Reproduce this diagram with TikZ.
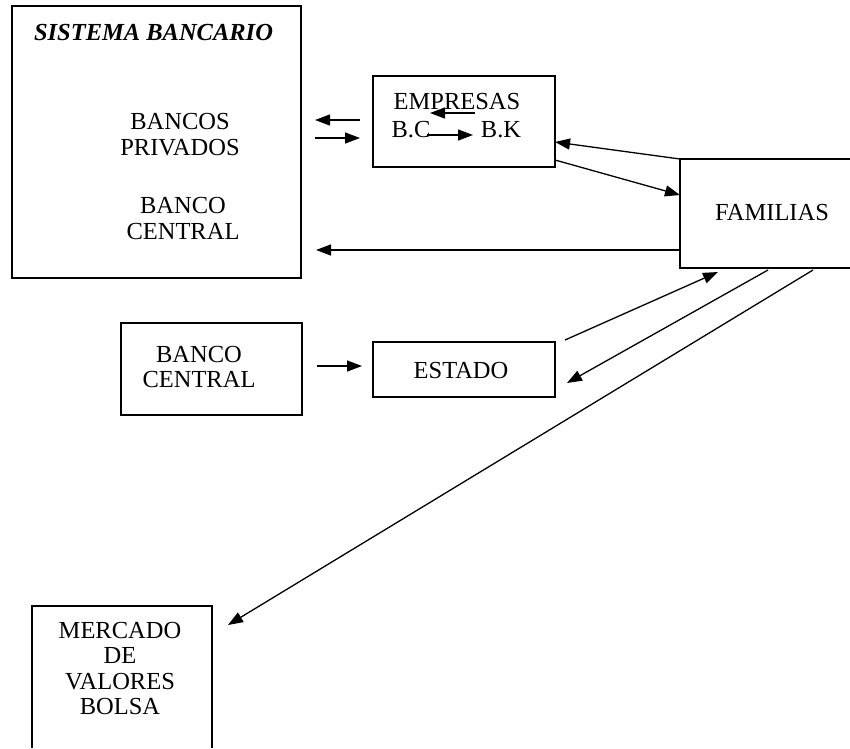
\documentclass[tikz,border=0pt]{standalone}
\usepackage{fontspec}
\setmainfont{Liberation Serif}
\usetikzlibrary{arrows.meta,calc}
\tikzset{
  box/.style={draw, line width=1.3pt, inner sep=0pt, outer sep=0pt},
  ghost/.style={draw=none, inner sep=0pt, outer sep=0pt},
  lbl/.style={inner sep=0pt, align=center, font=\fontsize{24.5}{25.5}\selectfont},
  flow/.style={line width=1.3pt, -{Triangle[length=15pt,width=11pt]}},
  frame/.style={line width=1.3pt},
}
\begin{document}
\begin{tikzpicture}[x=1pt,y=-1pt]
\useasboundingbox (0,0) rectangle (850,748);
% boxes
\node[box, minimum width=289pt, minimum height=272pt] (sb) at (156.5,142) {};
\node[box, minimum width=182pt, minimum height=91pt] (emp) at (464,121.5) {};
\node[ghost, minimum width=170pt, minimum height=109pt] (fam) at (765,213.5) {};
\draw[frame] (fam.north east) -- (fam.north west) -- (fam.south west) -- (fam.south east);
\node[box, minimum width=181pt, minimum height=92pt] (bc) at (211.5,369) {};
\node[box, minimum width=182pt, minimum height=55pt] (est) at (464,369.5) {};
\node[ghost, minimum width=180pt, minimum height=142pt] (mer) at (122,677) {};
\draw[frame] (mer.south west) -- (mer.north west) -- (mer.north east) -- (mer.south east);
% texts
\node[lbl, font=\fontsize{24.5}{25.5}\selectfont\bfseries\itshape] (tsb) at (153.5,33) {SISTEMA BANCARIO};
\node[lbl] (tbp) at (180,134.5) {BANCOS\\PRIVADOS};
\node[lbl] (tbc) at (183,218.5) {BANCO\\CENTRAL};
\node[lbl] (temp) at (457,102) {EMPRESAS};
\node[lbl] (tbcc) at (411,129.5) {B.C};
\node[lbl] (tbk) at (501,129.5) {B.K};
\node[lbl] (tfam) at (772,213) {FAMILIAS};
\node[lbl] (tbc2) at (199,367) {BANCO\\CENTRAL};
\node[lbl] (test) at (461,370) {ESTADO};
\node[lbl] (tmer) at (120,668.5) {MERCADO\\DE\\VALORES\\BOLSA};
% free ends of short arrows
\coordinate (l1a) at (360,120);
\coordinate (l1b) at (315,120);
\coordinate (l2a) at (315,138);
\coordinate (l2b) at (360,138);
\coordinate (i1a) at (475,113);
\coordinate (i1b) at (430,113);
\coordinate (i2a) at (427,135);
\coordinate (i2b) at (473,135);
% connectors
\draw[flow] (l1a) -- (l1b);
\draw[flow] (l2a) -- (l2b);
\draw[flow] (i1a) -- (i1b);
\draw[flow] (i2a) -- (i2b);
\draw[flow] (fam.north west) -- ($(emp.east)+(0,20.5)$);
\draw[flow] ($(emp.south east)+(0,-7)$) -- ($(fam.north west)+(0,36)$);
\draw[flow] ($(fam.south west)+(0,-18)$) -- ($(sb.east)+(15,108)$);
\draw[flow] ($(bc.east)+(15,-3)$) -- ($(est.west)+(-11,-3.5)$);
\draw[flow] ($(est.north east)+(10,-2)$) -- ($(fam.south west)+(38,4)$);
\draw[flow] ($(fam.south west)+(88,2)$) -- ($(est.east)+(12,13.5)$);
\draw[flow] ($(fam.south west)+(133,2)$) -- ($(mer.north east)+(16,19)$);
\end{tikzpicture}
\end{document}
